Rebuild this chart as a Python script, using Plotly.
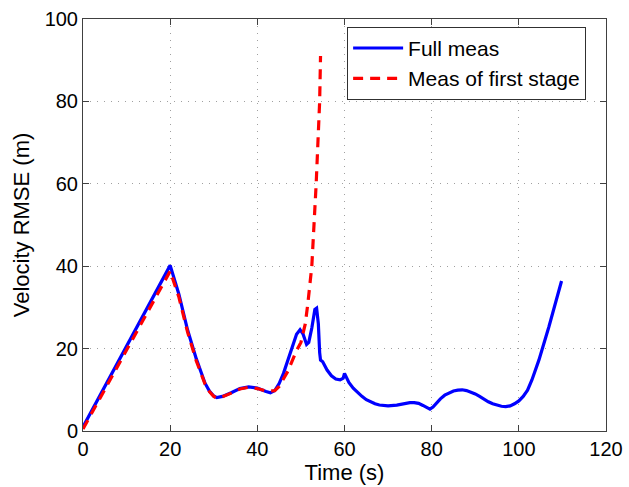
import plotly.graph_objects as go

# Full measurement series
full_t = [0, 20, 22, 24, 26, 27, 28, 29, 30, 30.7, 32, 34, 36, 38, 40, 42, 43, 44, 45, 46, 47, 48, 49,
          49.8, 50.5, 51.3, 51.8, 52.5, 53.2, 53.6, 54, 54.3, 54.5, 55, 56, 57, 58, 59, 59.7, 60,
          60.4, 61, 62, 63, 64, 65, 66, 67, 68, 70, 72, 74, 75, 76, 77, 78, 79, 79.6, 80.3, 81,
          82, 83, 84, 85, 86, 87, 88, 89, 90, 91, 92, 93, 94, 95, 96, 97, 98, 99,
          100, 101, 102, 103, 104.6, 106.9, 108.4, 109.8]
full_v = [1, 40.2, 33.2, 24.5, 17.5, 14.3, 11.6, 9.7, 8.5, 8.1, 8.4, 9.3, 10.3, 10.7, 10.4, 9.6, 9.3,
          9.8, 11.5, 14, 17, 20.5, 23.5, 24.6, 23.5, 21, 21.5, 25, 29.5, 29.8, 26, 19, 17.2, 16.8,
          14.8, 13.4, 12.6, 12.4, 12.8, 14, 13, 11.8, 10.4, 9.3, 8.4, 7.6, 7.0, 6.6, 6.3, 6.1,
          6.3, 6.7, 6.9, 6.9, 6.7, 6.2, 5.6, 5.3, 5.8, 6.7,
          7.8, 8.7, 9.3, 9.7, 9.9, 10.0, 9.8, 9.5, 9.0, 8.4, 7.7, 7.1, 6.6, 6.2, 6.0, 5.9, 6.1, 6.6,
          7.3, 8.4, 9.9, 12.4, 17.2, 25.3, 31, 36.4]

# First-stage measurement series
first_t = [0, 20, 22, 24, 26, 27, 28, 29, 30, 30.7, 32, 34, 36, 38, 40, 42, 44, 45, 46, 47, 48, 49,
           50, 51, 51.6, 52.5, 53.5, 54.3, 54.5]
first_v = [0.5, 38.8, 32.5, 24, 17, 14, 11.4, 9.6, 8.4, 8.0, 8.3, 9.2, 10.2, 10.6, 10.3, 9.7, 9.8,
           10.8, 12.5, 14.5, 17, 19.5, 21.5, 26, 31, 40, 60, 80, 91]

x_ticks = [0, 20, 40, 60, 80, 100, 120]
y_ticks = [0, 20, 40, 60, 80, 100]

font_family = "Liberation Sans, Arial, sans-serif"

fig = go.Figure()
fig.add_trace(go.Scatter(x=full_t, y=full_v, mode="lines", name="Full meas",
                         line=dict(color="#0000ff", width=3.2)))
fig.add_trace(go.Scatter(x=first_t, y=first_v, mode="lines", name="Meas of first stage",
                         line=dict(color="#ff0000", width=3.2, dash="10px,7px")))

axis_common = dict(
    showline=True, linecolor="#404040", linewidth=1, mirror="ticks",
    ticks="inside", ticklen=6, tickcolor="#404040",
    showgrid=True, gridcolor="#a0a0a0", gridwidth=1, griddash="1px,6px",
    zeroline=False, tickfont=dict(size=20, color="black", family=font_family),
    automargin=False,
)

fig.update_xaxes(range=[0, 120], tickvals=x_ticks,
                 title=dict(text="Time (s)", font=dict(size=22, family=font_family, color="black"),
                            standoff=0),
                 **axis_common)
fig.update_yaxes(range=[0, 100], tickvals=y_ticks,
                 title=dict(text="Velocity RMSE (m)", font=dict(size=22, family=font_family, color="black"),
                            standoff=8),
                 **axis_common)

fig.update_layout(
    width=629, height=487,
    margin=dict(l=83, r=23, t=19, b=56),
    paper_bgcolor="white", plot_bgcolor="white",
    font=dict(family=font_family, color="black"),
    legend=dict(x=0.505, y=0.981, xanchor="left", yanchor="top",
                bgcolor="white", bordercolor="#303030", borderwidth=1,
                font=dict(size=21, family=font_family, color="black"),
                tracegroupgap=0, itemwidth=50),
    showlegend=True,
)

fig.write_html("out.html", config={"displayModeBar": False},
               post_script="document.body.style.margin='0';document.body.style.overflow='hidden';")
